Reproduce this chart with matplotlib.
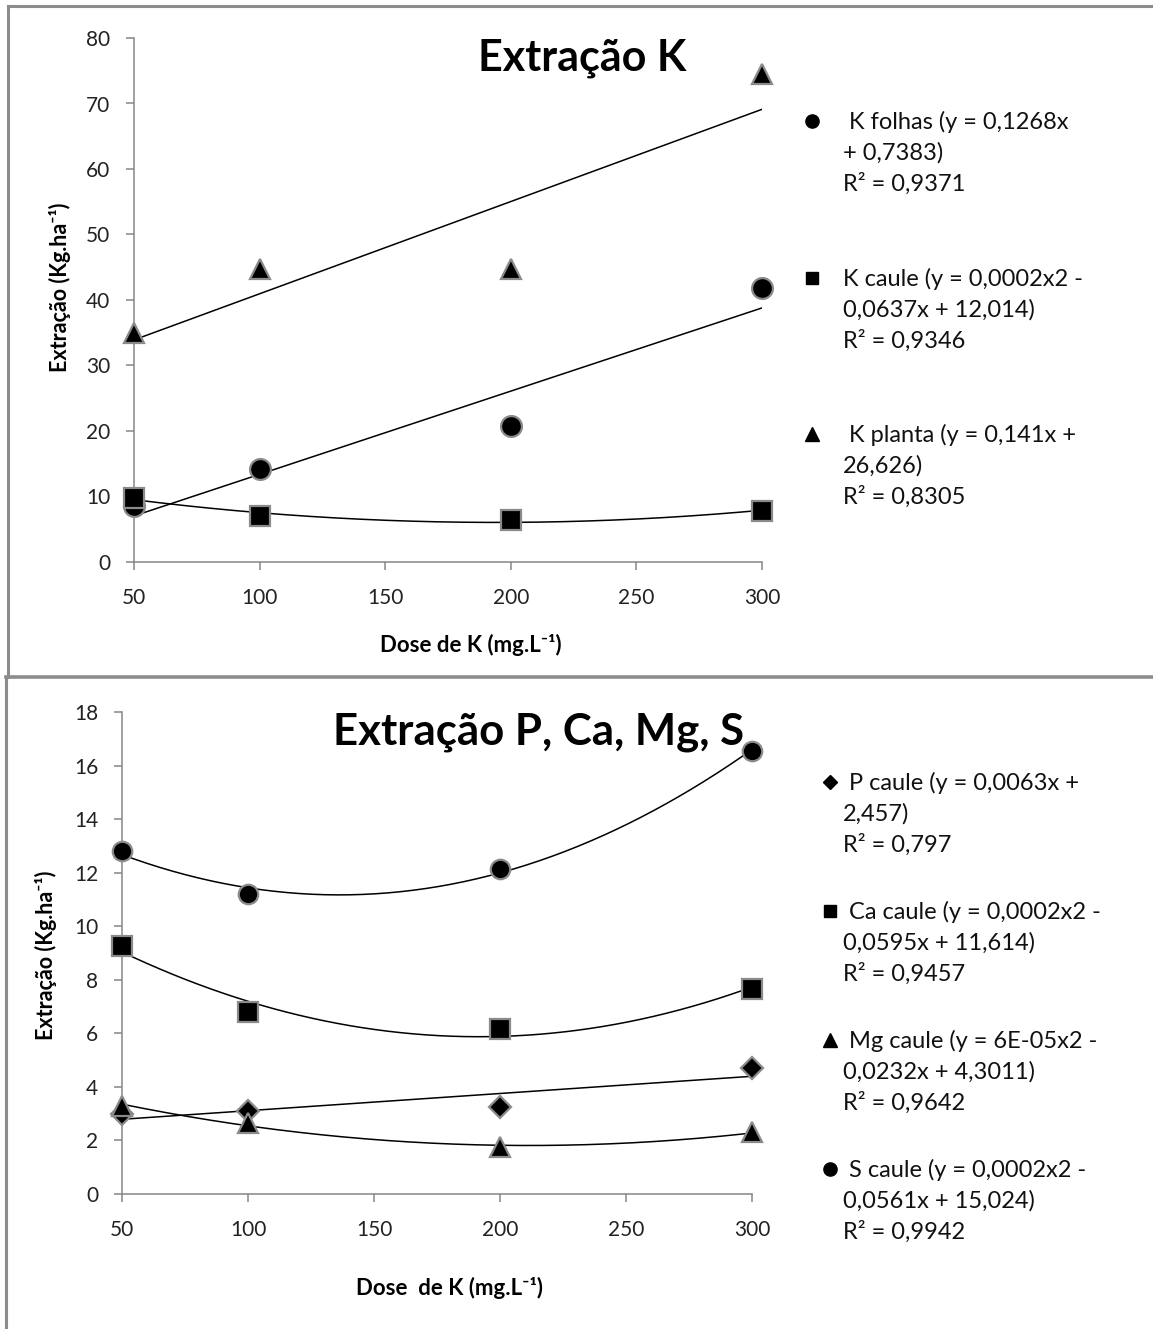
import numpy as np
import matplotlib
matplotlib.use("Agg")
import matplotlib.pyplot as plt
from matplotlib.lines import Line2D

plt.rcParams['font.family'] = ['Lato', 'DejaVu Sans']

# ---------------- data ----------------
doses = [50, 100, 200, 300]

# Panel 1 : Extração K
k_folhas = [8.5, 14.2, 20.8, 41.8]
k_caule = [9.8, 7.0, 6.4, 7.8]
k_planta = [35.0, 44.7, 44.8, 74.5]
k_names = [" K folhas (y = 0,1268x\n+ 0,7383)\nR² = 0,9371",
           "K caule (y = 0,0002x2 -\n0,0637x + 12,014)\nR² = 0,9346",
           " K planta (y = 0,141x +\n26,626)\nR² = 0,8305"]
k_degree = [1, 2, 1]
k_markers = ['o', 's', '^']

# Panel 2 : Extração P, Ca, Mg, S
p_caule = [3.0, 3.1, 3.25, 4.7]
ca_caule = [9.25, 6.8, 6.15, 7.65]
mg_caule = [3.3, 2.65, 1.75, 2.3]
s_caule = [12.8, 11.2, 12.15, 16.55]
b_names = [" P caule (y = 0,0063x +\n2,457)\nR² = 0,797",
           " Ca caule (y = 0,0002x2 -\n0,0595x + 11,614)\nR² = 0,9457",
           " Mg caule (y = 6E-05x2 -\n0,0232x + 4,3011)\nR² = 0,9642",
           " S caule (y = 0,0002x2 -\n0,0561x + 15,024)\nR² = 0,9942"]
b_degree = [1, 2, 2, 2]
b_markers = ['D', 's', '^', 'o']

W, H = 1153, 1329
fig = plt.figure(figsize=(W / 100, H / 100), dpi=100)

GRAY = '#868686'
BORDER = '#8c8c8c'

def fx(px):
    return px / W

def fy(py):
    return 1 - py / H

# panel frames
fig.add_artist(Line2D([fx(8), fx(1153)], [fy(6), fy(6)], color=BORDER, lw=2.2))
fig.add_artist(Line2D([fx(8), fx(8)], [fy(6), fy(677)], color=BORDER, lw=2.2))
fig.add_artist(Line2D([fx(6), fx(1153)], [fy(677), fy(677)], color=BORDER, lw=2.6))
fig.add_artist(Line2D([fx(6), fx(6)], [fy(677), fy(1329)], color=BORDER, lw=2.2))


def style_axes(ax):
    for s in ['top', 'right']:
        ax.spines[s].set_visible(False)
    for s in ['left', 'bottom']:
        ax.spines[s].set_color(GRAY)
        ax.spines[s].set_linewidth(1.1)
    ax.tick_params(axis='both', direction='out', length=6, width=1.1, color=GRAY,
                   labelsize=15, labelcolor='#222222')
    ax.tick_params(axis='x', pad=13)
    ax.tick_params(axis='y', pad=11)
    ax.set_xlim(50, 300)
    ax.set_xticks([50, 100, 150, 200, 250, 300])


def draw_series(ax, x, y, deg, marker, ms):
    coef = np.polyfit(x, y, deg)
    xx = np.linspace(min(x), max(x), 200)
    ax.plot(xx, np.polyval(coef, xx), color='black', lw=1.1, zorder=2)
    ax.plot(x, y, linestyle='none', marker=marker, ms=ms, mfc='black',
            mec='#8a8a8a', mew=1.6, zorder=3, clip_on=False)


LEG_FS = 17

def legend_entry(px, py, tx, label, marker, ms):
    fig.add_artist(Line2D([fx(px)], [fy(py)], marker=marker, ms=ms, color='black',
                          linestyle='none'))
    fig.text(fx(tx), fy(py - 10), label, fontsize=LEG_FS, va='top', ha='left',
             color='#111111', linespacing=1.52)


YLAB = 'Extração (Kg.ha⁻¹)'

# ---------------- Panel 1 ----------------
ax1 = fig.add_axes([fx(134), fy(562), fx(762) - fx(134), fy(38) - fy(562)])
style_axes(ax1)
ax1.set_ylim(0, 80)
ax1.set_yticks(range(0, 81, 10))
for vals, deg, mk in zip([k_folhas, k_caule, k_planta], k_degree, k_markers):
    ms = {'o': 15, 's': 14, '^': 15}[mk]
    draw_series(ax1, doses, vals, deg, mk, ms)
ax1.set_ylabel(YLAB, fontsize=15.5, fontweight='bold')
ax1.yaxis.set_label_coords(-0.100, 0.525)
ax1.set_xlabel('Dose de K (mg.L⁻¹)', fontsize=16, fontweight='bold')
ax1.xaxis.set_label_coords(0.537, -0.137)
ax1.text(0.713, 0.962, 'Extração K', transform=ax1.transAxes, ha='center',
         va='center', fontsize=31, fontweight='bold')

for name, mk, py in zip(k_names, k_markers, [121, 278, 434]):
    legend_entry(812, py, 843, name, mk, 9.5 if mk != 's' else 9)

# ---------------- Panel 2 ----------------
ax2 = fig.add_axes([fx(122), fy(1194), fx(752) - fx(122), fy(712) - fy(1194)])
style_axes(ax2)
ax2.set_ylim(0, 18)
ax2.set_yticks(range(0, 19, 2))
for vals, deg, mk in zip([p_caule, ca_caule, mg_caule, s_caule], b_degree, b_markers):
    ms = {'o': 14, 's': 14, '^': 14, 'D': 11}[mk]
    draw_series(ax2, doses, vals, deg, mk, ms)
ax2.set_ylabel(YLAB, fontsize=15.5, fontweight='bold')
ax2.yaxis.set_label_coords(-0.103, 0.496)
ax2.set_xlabel('Dose  de K (mg.L⁻¹)', fontsize=16, fontweight='bold')
ax2.xaxis.set_label_coords(0.52, -0.172)
ax2.text(0.662, 0.958, 'Extração P, Ca, Mg, S', transform=ax2.transAxes, ha='center',
         va='center', fontsize=31.5, fontweight='bold')

for name, mk, py in zip(b_names, b_markers, [782, 911, 1040, 1169]):
    legend_entry(830, py, 843, name, mk, {'D': 7.5, 's': 9, '^': 9.5, 'o': 9.5}[mk])

fig.savefig('out.png', dpi=100, facecolor='white')
